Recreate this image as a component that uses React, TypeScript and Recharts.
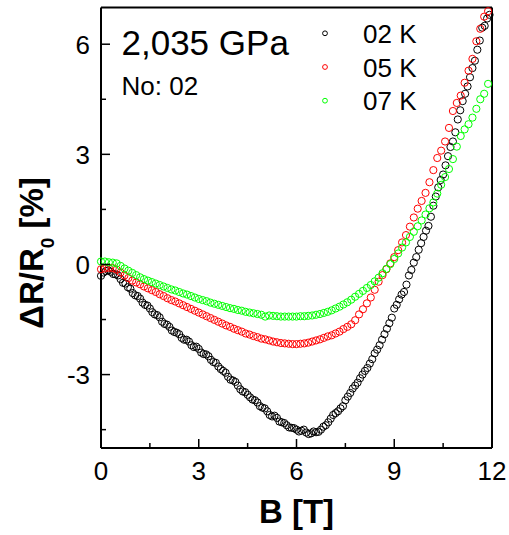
import React from 'react';
import { ScatterChart, Scatter, XAxis, YAxis, Legend } from 'recharts';

// Magnetic field B [T] for the 05 K and 07 K sweeps
const fieldB = [
  0, 0.12, 0.24, 0.36, 0.48, 0.6, 0.72, 0.84, 0.96, 1.08,
  1.2, 1.32, 1.44, 1.56, 1.68, 1.8, 1.92, 2.04, 2.16, 2.28,
  2.4, 2.52, 2.64, 2.76, 2.88, 3, 3.12, 3.24, 3.36, 3.48,
  3.6, 3.72, 3.84, 3.96, 4.08, 4.2, 4.32, 4.44, 4.56, 4.68,
  4.8, 4.92, 5.04, 5.16, 5.28, 5.4, 5.52, 5.64, 5.76, 5.88,
  6, 6.12, 6.24, 6.36, 6.48, 6.6, 6.72, 6.84, 6.96, 7.08,
  7.2, 7.32, 7.44, 7.56, 7.68, 7.8, 7.92, 8.04, 8.16, 8.28,
  8.4, 8.52, 8.64, 8.76, 8.88, 9, 9.12, 9.24, 9.36, 9.48,
  9.6, 9.72, 9.84, 9.96, 10.08, 10.2, 10.32, 10.44, 10.56, 10.68,
  10.8, 10.92, 11.04, 11.16, 11.28, 11.4, 11.52, 11.64, 11.76, 11.88,
];

// Magnetic field B [T] for the two 02 K sweeps
const fieldB02a = [
  0, 0.15, 0.3, 0.45, 0.6, 0.75, 0.9, 1.05, 1.2, 1.35,
  1.5, 1.65, 1.8, 1.95, 2.1, 2.25, 2.4, 2.55, 2.7, 2.85,
  3, 3.15, 3.3, 3.45, 3.6, 3.75, 3.9, 4.05, 4.2, 4.35,
  4.5, 4.65, 4.8, 4.95, 5.1, 5.25, 5.4, 5.55, 5.7, 5.85,
  6, 6.15, 6.3, 6.45, 6.6, 6.75, 6.9, 7.05, 7.2, 7.35,
  7.5, 7.65, 7.8, 7.95, 8.1, 8.25, 8.4, 8.55, 8.7, 8.85,
  9, 9.15, 9.3, 9.45, 9.6, 9.75, 9.9, 10.05, 10.2, 10.35,
  10.5, 10.65, 10.8, 10.95, 11.1, 11.25, 11.4, 11.55, 11.7, 11.85,
];
const fieldB02b = [
  0.075, 0.225, 0.375, 0.525, 0.675, 0.825, 0.975, 1.125, 1.275, 1.425,
  1.575, 1.725, 1.875, 2.025, 2.175, 2.325, 2.475, 2.625, 2.775, 2.925,
  3.075, 3.225, 3.375, 3.525, 3.675, 3.825, 3.975, 4.125, 4.275, 4.425,
  4.575, 4.725, 4.875, 5.025, 5.175, 5.325, 5.475, 5.625, 5.775, 5.925,
  6.075, 6.225, 6.375, 6.525, 6.675, 6.825, 6.975, 7.125, 7.275, 7.425,
  7.575, 7.725, 7.875, 8.025, 8.175, 8.325, 8.475, 8.625, 8.775, 8.925,
  9.075, 9.225, 9.375, 9.525, 9.675, 9.825, 9.975, 10.125, 10.275, 10.425,
  10.575, 10.725, 10.875, 11.025, 11.175, 11.325, 11.475, 11.625, 11.775, 11.925,
];

// ΔR/R0 [%] at 02 K (two sweeps)
const mr02Ka = [
  -0.31, -0.18, -0.2, -0.27, -0.4, -0.52, -0.66, -0.84, -0.93, -1.1,
  -1.2, -1.36, -1.44, -1.62, -1.7, -1.84, -1.9, -2.05, -2.1, -2.25,
  -2.3, -2.44, -2.5, -2.66, -2.78, -2.9, -3.06, -3.16, -3.3, -3.46,
  -3.55, -3.68, -3.76, -3.9, -4.0, -4.14, -4.18, -4.3, -4.38, -4.45,
  -4.5, -4.53, -4.58, -4.6, -4.57, -4.5, -4.38, -4.2, -4.05, -3.92,
  -3.7, -3.5, -3.3, -3.1, -2.9, -2.7, -2.42, -2.2, -1.9, -1.6,
  -1.2, -0.95, -0.75, -0.3, 0.05, 0.4, 0.75, 1.05, 1.6, 2.1,
  2.45, 2.95, 3.35, 3.95, 4.45, 4.85, 5.35, 5.85, 6.45, 6.7,
];
const mr02Kb = [
  -0.22, -0.16, -0.26, -0.3, -0.5, -0.62, -0.78, -0.86, -1.04, -1.12,
  -1.3, -1.38, -1.56, -1.64, -1.8, -1.86, -2.0, -2.05, -2.2, -2.24,
  -2.4, -2.45, -2.6, -2.68, -2.85, -2.95, -3.14, -3.2, -3.4, -3.48,
  -3.62, -3.7, -3.86, -3.92, -4.1, -4.12, -4.28, -4.32, -4.44, -4.46,
  -4.55, -4.5, -4.62, -4.55, -4.56, -4.42, -4.3, -4.1, -4.0, -3.86,
  -3.6, -3.38, -3.22, -3.0, -2.82, -2.58, -2.32, -2.05, -1.75, -1.45,
  -1.1, -0.82, -0.55, -0.15, 0.2, 0.58, 0.92, 1.3, 1.85, 2.3,
  2.7, 3.2, 3.6, 4.2, 4.65, 5.1, 5.55, 6.1, 6.5, 6.8,
];

// ΔR/R0 [%] at 05 K
const mr05K = [
  -0.13, -0.11, -0.09, -0.1, -0.14, -0.22, -0.3, -0.37, -0.44, -0.49,
  -0.54, -0.6, -0.65, -0.7, -0.75, -0.81, -0.86, -0.92, -0.97, -1.01,
  -1.06, -1.11, -1.16, -1.21, -1.26, -1.31, -1.36, -1.41, -1.46, -1.51,
  -1.56, -1.61, -1.66, -1.7, -1.75, -1.79, -1.83, -1.88, -1.91, -1.95,
  -1.98, -2.02, -2.04, -2.07, -2.1, -2.12, -2.14, -2.15, -2.16, -2.17,
  -2.17, -2.16, -2.15, -2.13, -2.1, -2.07, -2.04, -2.0, -1.96, -1.93,
  -1.88, -1.83, -1.76, -1.7, -1.63, -1.52, -1.36, -1.22, -1.06, -0.9,
  -0.69, -0.47, -0.29, -0.13, 0.03, 0.2, 0.39, 0.6, 0.8, 1.03,
  1.28, 1.52, 1.73, 1.95, 2.24, 2.57, 2.9, 3.1, 3.35, 3.72,
  4.18, 4.4, 4.6, 4.95, 5.28, 5.6, 6.08, 6.42, 6.75, 6.9,
];

// ΔR/R0 [%] at 07 K
const mr07K = [
  0.08, 0.08, 0.06, 0.05, 0.03, -0.04, -0.11, -0.17, -0.23, -0.29,
  -0.35, -0.4, -0.44, -0.48, -0.52, -0.56, -0.6, -0.64, -0.68, -0.71,
  -0.75, -0.79, -0.82, -0.86, -0.9, -0.94, -0.97, -1.0, -1.04, -1.07,
  -1.1, -1.13, -1.16, -1.19, -1.21, -1.24, -1.26, -1.29, -1.31, -1.33,
  -1.35, -1.37, -1.42, -1.39, -1.4, -1.41, -1.42, -1.42, -1.42, -1.42,
  -1.42, -1.41, -1.41, -1.4, -1.39, -1.37, -1.35, -1.32, -1.29, -1.25,
  -1.2, -1.15, -1.09, -1.03, -0.96, -0.88, -0.8, -0.72, -0.64, -0.56,
  -0.46, -0.36, -0.24, -0.12, 0.01, 0.15, 0.3, 0.46, 0.6, 0.75,
  0.89, 1.04, 1.2, 1.36, 1.53, 1.69, 1.93, 2.17, 2.38, 2.6,
  2.87, 3.21, 3.5, 3.68, 3.82, 4.0, 4.24, 4.5, 4.65, 4.92,
];

const seriesNames = ['02 K', '05 K', '07 K'];
const seriesColors = ['#000000', '#ff0000', '#00ff00'];

const xTicks = [0, 1.5, 3, 4.5, 6, 7.5, 9, 10.5, 12];
const yTicks = [-4.5, -3, -1.5, 0, 1.5, 3, 4.5, 6];
const xMajor = [0, 3, 6, 9, 12];
const yMajor = [-3, 0, 3, 6];

const pressureLabel = '2,035 GPa';
const sampleLabel = 'No: 02';

const FONT = '"Liberation Sans", Arial, Helvetica, sans-serif';

const makeData = (bs: number[], vals: number[]) => bs.map((b, i) => ({ b, v: vals[i] }));

const data02K = [...makeData(fieldB02a, mr02Ka), ...makeData(fieldB02b, mr02Kb)];
const data05K = makeData(fieldB, mr05K);
const data07K = makeData(fieldB, mr07K);
const seriesData = [data02K, data05K, data07K];

const BottomTick = (props: any) => {
  const { x, y, payload } = props;
  const major = xMajor.includes(payload.value);
  return (
    <g>
      <line x1={x} x2={x} y1={y} y2={y - (major ? 9 : 5)} stroke="#000" strokeWidth={1.5} />
      {major && (
        <text x={x} y={y + 32} textAnchor="middle" fontSize={26} fontFamily={FONT} fill="#000">
          {String(payload.value)}
        </text>
      )}
    </g>
  );
};

const TopTick = (props: any) => {
  const { x, y, payload } = props;
  const major = xMajor.includes(payload.value);
  return <line x1={x} x2={x} y1={y} y2={y + (major ? 9 : 5)} stroke="#000" strokeWidth={1.5} />;
};

const LeftTick = (props: any) => {
  const { x, y, payload } = props;
  const major = yMajor.includes(payload.value);
  return (
    <g>
      <line x1={x} x2={x + (major ? 9 : 5)} y1={y} y2={y} stroke="#000" strokeWidth={1.5} />
      {major && (
        <text x={x - 11} y={y + 9.5} textAnchor="end" fontSize={26} fontFamily={FONT} fill="#000">
          {String(payload.value)}
        </text>
      )}
    </g>
  );
};

const RightTick = (props: any) => {
  const { x, y, payload } = props;
  const major = yMajor.includes(payload.value);
  return <line x1={x} x2={x - (major ? 9 : 5)} y1={y} y2={y} stroke="#000" strokeWidth={1.5} />;
};

const makeShape = (color: string) => (p: any) => (
  <circle cx={p.cx} cy={p.cy} r={3.6} fill="none" stroke={color} strokeWidth={1} />
);

const LegendContent = () => (
  <svg width={509} height={120} style={{ display: 'block' }}>
    {seriesNames.map((name, i) => (
      <g key={name}>
        <circle cx={325} cy={33.3 + i * 33.7} r={2.4} fill="none" stroke={seriesColors[i]} strokeWidth={1} />
        <text x={363} y={33.3 + i * 33.7 + 9.5} fontSize={26} fontFamily={FONT} fill="#000">
          {name}
        </text>
      </g>
    ))}
  </svg>
);

export default function App() {
  const axisLine = { stroke: '#000', strokeWidth: 2 };
  return (
    <div style={{ position: 'absolute', left: 0, top: 0, width: 509, height: 535, background: '#fff' }}>
      <ScatterChart width={509} height={535} margin={{ top: 0.5, right: 0, bottom: 0, left: 0 }}>
        <XAxis
          xAxisId={0}
          type="number"
          dataKey="b"
          domain={[0, 12]}
          ticks={xTicks}
          interval={0}
          height={87}
          tickSize={0}
          tickMargin={0}
          tickLine={false}
          axisLine={axisLine}
          tick={<BottomTick />}
        />
        <XAxis
          xAxisId="top"
          orientation="top"
          type="number"
          dataKey="b"
          domain={[0, 12]}
          ticks={xTicks}
          interval={0}
          height={7}
          tickSize={0}
          tickMargin={0}
          tickLine={false}
          axisLine={axisLine}
          tick={<TopTick />}
        />
        <YAxis
          yAxisId={0}
          type="number"
          dataKey="v"
          domain={[-5, 7]}
          ticks={yTicks}
          interval={0}
          width={101}
          tickSize={0}
          tickMargin={0}
          tickLine={false}
          axisLine={axisLine}
          tick={<LeftTick />}
        />
        <YAxis
          yAxisId="right"
          orientation="right"
          type="number"
          dataKey="v"
          domain={[-5, 7]}
          ticks={yTicks}
          interval={0}
          width={17}
          tickSize={0}
          tickMargin={0}
          tickLine={false}
          axisLine={axisLine}
          tick={<RightTick />}
        />
        {seriesData.map((d, i) => (
          <Scatter
            key={seriesNames[i]}
            name={seriesNames[i]}
            data={d}
            xAxisId={0}
            yAxisId={0}
            fill="none"
            stroke={seriesColors[i]}
            shape={makeShape(seriesColors[i])}
            isAnimationActive={false}
          />
        ))}
        <Legend
          layout="horizontal"
          verticalAlign="middle"
          align="center"
          content={<LegendContent />}
          wrapperStyle={{ position: 'absolute', left: 0, top: 0, width: 509, height: 120 }}
        />
      </ScatterChart>
      <svg
        width={509}
        height={535}
        style={{ position: 'absolute', left: 0, top: 0, pointerEvents: 'none' }}
      >
        <text x={121.5} y={55} fontSize={35} fontFamily={FONT} fill="#000">
          {pressureLabel}
        </text>
        <text x={121.5} y={95} fontSize={26} fontFamily={FONT} fill="#000">
          {sampleLabel}
        </text>
        <text x={296.5} y={523} textAnchor="middle" fontSize={33} fontWeight="bold" fontFamily={FONT} fill="#000">
          B [T]
        </text>
        <text
          transform="translate(43,253) rotate(-90)"
          textAnchor="middle"
          fontSize={33}
          fontWeight="bold"
          fontFamily={FONT}
          fill="#000"
        >
          ΔR/R
          <tspan fontSize={19} dy={11}>0</tspan>
          <tspan dy={-11}> [%]</tspan>
        </text>
      </svg>
    </div>
  );
}
